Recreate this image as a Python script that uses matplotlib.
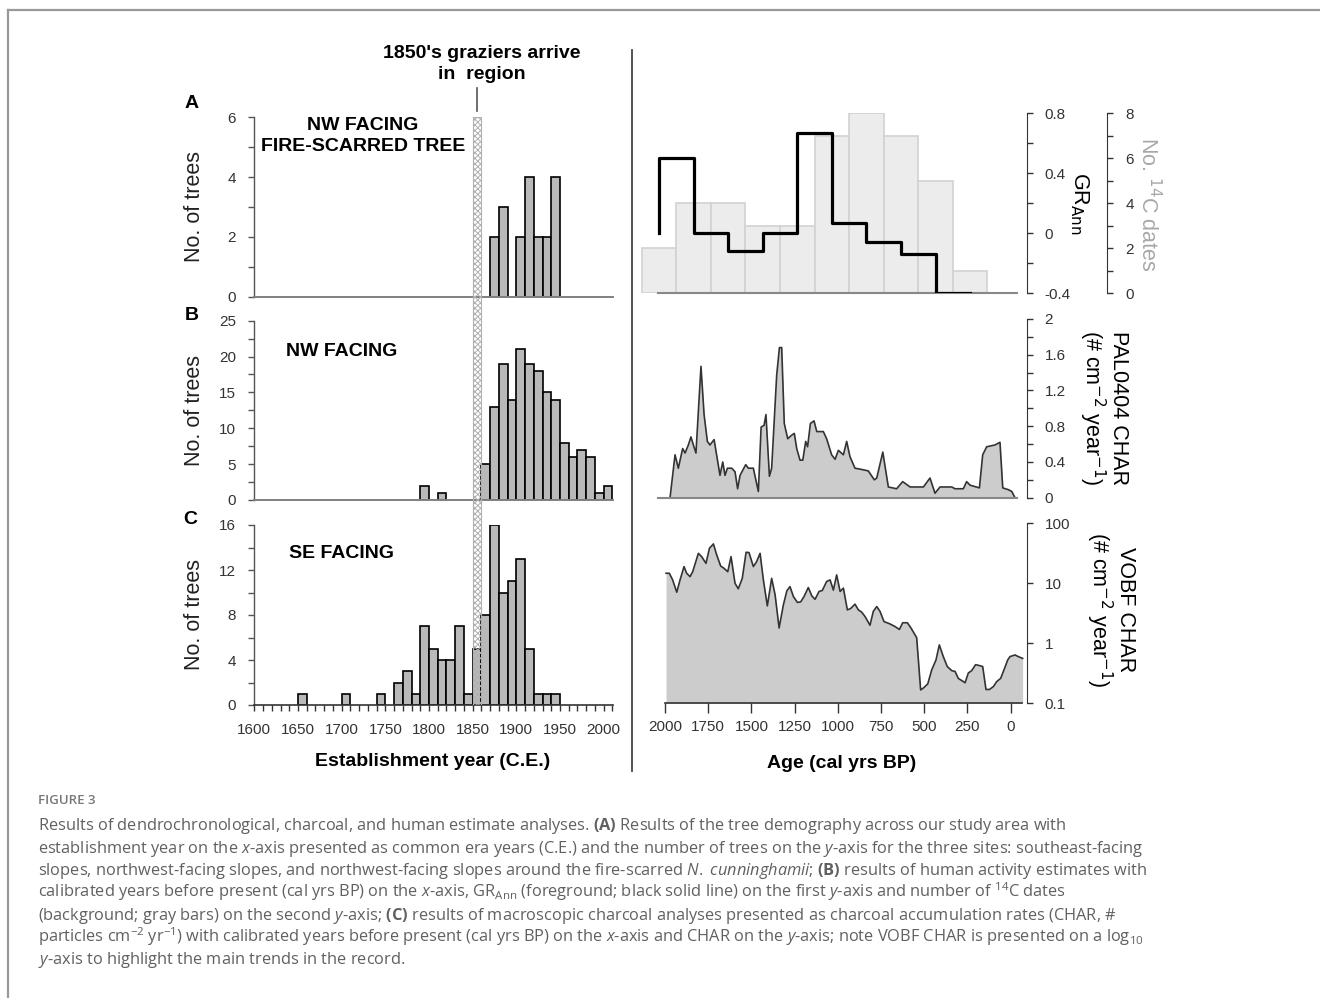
import matplotlib
matplotlib.use("Agg")
import matplotlib.pyplot as plt
from matplotlib.ticker import MultipleLocator, FixedLocator, NullLocator, FuncFormatter
from matplotlib.lines import Line2D
import matplotlib.transforms as mtrans

plt.rcParams['font.family'] = ['Liberation Sans', 'DejaVu Sans']
plt.rcParams['mathtext.fontset'] = 'custom'
plt.rcParams['mathtext.rm'] = 'Open Sans'
plt.rcParams['mathtext.it'] = 'Open Sans:italic'
plt.rcParams['mathtext.bf'] = 'Open Sans:bold'
plt.rcParams['hatch.linewidth'] = 0.7
plt.rcParams['hatch.color'] = '#a8a8a8'

# ---------------- data ----------------
# Panel A: NW facing, fire-scarred tree (decade bins, left edges)
years_A = [1870, 1880, 1900, 1910, 1920, 1930, 1940]
counts_A = [2, 3, 2, 4, 2, 2, 4]
# Panel B: NW facing
years_B = [1790, 1810, 1860, 1870, 1880, 1890, 1900, 1910, 1920, 1930, 1940,
           1950, 1960, 1970, 1980, 1990, 2000]
counts_B = [2, 1, 5, 13, 19, 14, 21, 19, 18, 15, 14, 8, 6, 7, 6, 1, 2]
# Panel C: SE facing
years_C = [1650, 1700, 1740, 1760, 1770, 1780, 1790, 1800, 1810, 1820, 1830,
           1840, 1850, 1860, 1870, 1880, 1890, 1900, 1910, 1920, 1930, 1940]
counts_C = [1, 1, 1, 2, 3, 1, 7, 5, 4, 4, 7, 1, 5, 8, 16, 10, 11, 13, 5, 1, 1, 1]
grazier_start, grazier_end, grazier_year = 1850, 1860, 1855

# Right top: number of 14C dates (200-yr bins) and GR_Ann step line
c14_centers = [2035, 1835, 1635, 1435, 1235, 1035, 835, 635, 435, 235]
c14_counts = [2, 4, 4, 3, 3, 7, 8, 7, 5, 1]
gr_edges = [2035, 1835, 1635, 1435, 1235, 1035, 835, 635, 435, 235]
gr_values = [0.5, 0.0, -0.12, 0.0, 0.67, 0.07, -0.06, -0.14, -0.4]
gr_start = 0.0

# Right middle: PAL0404 CHAR
pal_age = [1971, 1942, 1923, 1898, 1884, 1865, 1850, 1836, 1821, 1792, 1774, 1755, 1740,
           1716, 1682, 1666, 1653, 1639, 1614, 1595, 1580, 1566, 1533, 1518, 1489, 1460,
           1444, 1427, 1416, 1396, 1383, 1354, 1338, 1325, 1310, 1290, 1267, 1252, 1238,
           1219, 1203, 1186, 1175, 1159, 1138, 1122, 1084, 1065, 1036, 1016, 997, 968,
           949, 930, 901, 872, 824, 789, 775, 740, 708, 660, 625, 582, 505, 467, 438,
           409, 341, 322, 274, 255, 235, 181, 162, 139, 91, 62, 46, 14, -6, -25]
pal_val = [0.0, 0.48, 0.33, 0.55, 0.50, 0.59, 0.68, 0.59, 0.50, 1.47, 0.93, 0.63, 0.59,
           0.65, 0.25, 0.40, 0.25, 0.33, 0.33, 0.29, 0.10, 0.25, 0.37, 0.33, 0.33, 0.07,
           0.79, 0.81, 0.93, 0.24, 0.33, 1.37, 1.68, 1.68, 0.83, 0.66, 0.70, 0.72, 0.55,
           0.42, 0.42, 0.63, 0.57, 0.83, 0.86, 0.74, 0.74, 0.66, 0.48, 0.43, 0.53, 0.48,
           0.63, 0.46, 0.33, 0.32, 0.30, 0.20, 0.22, 0.51, 0.12, 0.10, 0.18, 0.12, 0.12,
           0.22, 0.05, 0.12, 0.12, 0.10, 0.10, 0.18, 0.14, 0.11, 0.48, 0.57, 0.59, 0.62,
           0.11, 0.09, 0.07, 0.0]

# Right bottom: VOBF CHAR (log scale)
vobf_age = [1994, 1975, 1956, 1932, 1913, 1890, 1875, 1855, 1840, 1807, 1788, 1763, 1743,
            1720, 1701, 1678, 1659, 1637, 1618, 1595, 1576, 1553, 1531, 1514, 1489, 1470,
            1450, 1431, 1408, 1383, 1363, 1340, 1315, 1295, 1277, 1257, 1234, 1215, 1196,
            1171, 1151, 1132, 1109, 1090, 1065, 1045, 1026, 1007, 987, 968, 945, 926, 901,
            881, 862, 843, 814, 795, 775, 756, 733, 698, 669, 644, 625, 598, 577, 544, 521,
            505, 480, 457, 432, 413, 390, 367, 341, 322, 303, 274, 264, 245, 226, 203, 187,
            162, 143, 123, 100, 81, 58, 39, 17, 4, -25, -44, -69]
vobf_val = [14.7, 14.7, 11.4, 7.1, 11.4, 19.0, 14.7, 12.9, 15.6, 31.6, 27.8, 21.5, 38.3,
            45.3, 29.7, 19.4, 17.8, 15.6, 27.8, 10.0, 8.1, 12.1, 32.9, 32.5, 19.0, 23.0,
            31.6, 11.4, 4.2, 12.1, 6.4, 1.8, 4.4, 7.5, 8.8, 6.0, 4.8, 4.9, 6.0, 8.5, 6.2,
            5.4, 7.3, 7.6, 10.7, 11.4, 7.7, 13.8, 7.3, 8.3, 3.6, 3.8, 4.5, 3.6, 3.3, 2.8,
            2.0, 3.4, 4.1, 3.4, 2.3, 2.1, 1.9, 1.7, 2.2, 2.2, 1.8, 1.24, 0.167, 0.18, 0.21,
            0.36, 0.53, 0.94, 0.60, 0.41, 0.35, 0.34, 0.26, 0.23, 0.22, 0.32, 0.35, 0.44,
            0.43, 0.41, 0.17, 0.17, 0.19, 0.23, 0.26, 0.36, 0.53, 0.60, 0.64, 0.60, 0.56]

age_ticks = [2000, 1750, 1500, 1250, 1000, 750, 500, 250, 0]
year_ticks = [1600, 1650, 1700, 1750, 1800, 1850, 1900, 1950, 2000]

caption_lines = [
    r"Results of dendrochronological, charcoal, and human estimate analyses. $\mathbf{(A)}$ Results of the tree demography across our study area with",
    r"establishment year on the $\mathit{x}$-axis presented as common era years (C.E.) and the number of trees on the $\mathit{y}$-axis for the three sites: southeast-facing",
    r"slopes, northwest-facing slopes, and northwest-facing slopes around the fire-scarred $\mathit{N.}$ $\mathit{cunninghamii}$; $\mathbf{(B)}$ results of human activity estimates with",
    r"calibrated years before present (cal yrs BP) on the $\mathit{x}$-axis, GR$_{\mathrm{Ann}}$ (foreground; black solid line) on the first $\mathit{y}$-axis and number of $^{14}$C dates",
    r"(background; gray bars) on the second $\mathit{y}$-axis; $\mathbf{(C)}$ results of macroscopic charcoal analyses presented as charcoal accumulation rates (CHAR, #",
    r"particles cm$^{-2}$ yr$^{-1}$) with calibrated years before present (cal yrs BP) on the $\mathit{x}$-axis and CHAR on the $\mathit{y}$-axis; note VOBF CHAR is presented on a log$_{10}$",
    r"$\mathit{y}$-axis to highlight the main trends in the record.",
]

# ---------------- figure ----------------
W, H = 1320, 998
fig = plt.figure(figsize=(W / 100, H / 100), dpi=100)


def ax_px(x0, x1, ytop, ybot):
    return fig.add_axes([x0 / W, 1 - ybot / H, (x1 - x0) / W, (ybot - ytop) / H])


def fx(px):
    return px / W


def fy(py):
    return 1 - py / H


BAR_FC = '#b9b9b9'
TXT = '#333333'
SP = '#555555'

LX0, LX1 = 254.3, 613.3
left_specs = [
    (years_A, counts_A, 117.3, 296.7, 6, 2, 1),
    (years_B, counts_B, 320.7, 500.0, 25, 5, 2.5),
    (years_C, counts_C, 525.0, 705.0, 16, 4, 2),
]
left_axes = []
for i, (yrs, cnt, yt, yb, ymax, maj, mnr) in enumerate(left_specs):
    ax = ax_px(LX0, LX1, yt, yb)
    ax.bar(yrs, cnt, width=10, align='edge', color=BAR_FC, edgecolor='black', linewidth=1.2, zorder=2)
    ax.set_xlim(1600, 2011)
    ax.set_ylim(0, ymax)
    ax.yaxis.set_major_locator(MultipleLocator(maj))
    ax.yaxis.set_minor_locator(MultipleLocator(mnr))
    ax.yaxis.set_major_formatter(FuncFormatter(lambda v, p: f"{v:g}"))
    for s in ['top', 'right']:
        ax.spines[s].set_visible(False)
    ax.spines['left'].set_color(SP)
    ax.spines['left'].set_linewidth(1.0)
    ax.tick_params(axis='y', which='both', direction='out', length=4, width=1.0,
                   color=SP, labelcolor=TXT, labelsize=11, pad=9)
    ax.patch.set_visible(False)
    if i < 2:
        ax.set_xticks([])
        ax.spines['bottom'].set_color('#808080')
        ax.spines['bottom'].set_linewidth(1.4)
    else:
        ax.spines['bottom'].set_color('#333333')
        ax.spines['bottom'].set_linewidth(1.2)
        ax.xaxis.set_major_locator(FixedLocator(year_ticks))
        ax.xaxis.set_minor_locator(MultipleLocator(10))
        ax.tick_params(axis='x', which='both', direction='out', length=4, width=1.0,
                       color='#333333', labelcolor=TXT, labelsize=11, pad=9)
    left_axes.append(ax)
    fig.text(fx(195), fy((yt + yb) / 2), 'No. of trees', rotation=90, ha='center',
             va='center', fontsize=15.5, color='#222222')

# panel letters
for lab, px, py in [('A', 191.5, 103.3), ('B', 191.5, 315), ('C', 190.5, 520)]:
    fig.text(fx(px), fy(py), lab, fontsize=14, fontweight='bold', ha='center', va='center')

# panel annotations
fig.text(fx(363), fy(136), 'NW FACING\nFIRE-SCARRED TREE', fontsize=14, fontweight='bold',
         ha='center', va='center', multialignment='center', linespacing=1.25)
fig.text(fx(342), fy(351.7), 'NW FACING', fontsize=14, fontweight='bold', ha='center', va='center')
fig.text(fx(341), fy(554), 'SE FACING', fontsize=14, fontweight='bold', ha='center', va='center')

# hatched grazier band across the three panels
ov = ax_px(LX0, LX1, 117.3, 705.0)
ov.set_xlim(1600, 2011)
ov.set_ylim(0, 1)
ov.axis('off')
ov.axvspan(grazier_start, grazier_end, facecolor='none', edgecolor='#b0b0b0',
           hatch='xxxxxx', linewidth=0.8, zorder=5)
tr = mtrans.blended_transform_factory(ov.transData, fig.transFigure)
ov.add_line(Line2D([grazier_year, grazier_year], [fy(88), fy(111)], transform=tr,
                   color='#555555', lw=1.2, clip_on=False))
fig.text(fx(481.5), fy(64), "1850's graziers arrive\nin  region", fontsize=14,
         fontweight='bold', ha='center', va='center', multialignment='center', linespacing=1.25)

fig.text(fx(433), fy(761.5), 'Establishment year (C.E.)', fontsize=14, fontweight='bold',
         ha='center', va='center')

# divider
fig.add_artist(Line2D([fx(632), fx(632)], [fy(50), fy(771)], color='#444444', lw=1.3))

# ---------------- right panels ----------------
RX0, RX1 = 639.1, 1026.6
XL = (2150, -92)


def right_common(ax):
    ax.set_xlim(*XL)
    for s in ['top', 'left']:
        ax.spines[s].set_visible(False)
    ax.spines['right'].set_color('#333333')
    ax.yaxis.tick_right()
    ax.tick_params(axis='y', which='both', direction='out', length=4.5, width=1.0,
                   color='#333333', labelcolor=TXT, labelsize=11, pad=8.5)
    ax.patch.set_visible(False)


# top right
ax_gr = ax_px(RX0, RX1, 113.3, 293.3)
ax_c14 = ax_gr.twinx()
ax_c14.bar(c14_centers, c14_counts, width=200, color='#ececec', edgecolor='#d2d2d2',
           linewidth=1.2)
ax_c14.set_ylim(0, 8)
ax_c14.set_xlim(*XL)
ax_c14.yaxis.set_major_locator(MultipleLocator(2))
ax_c14.yaxis.set_minor_locator(MultipleLocator(1))
for s in ['top', 'left', 'bottom']:
    ax_c14.spines[s].set_visible(False)
ax_c14.spines['right'].set_position(('outward', 80.6 * 0.72))
ax_c14.spines['right'].set_color('#333333')
ax_c14.tick_params(axis='y', which='both', direction='out', length=4.5, width=1.0,
                   color='#333333', labelcolor=TXT, labelsize=11, pad=8.5)

ax_gr.step([gr_edges[0]] + gr_edges, [gr_start] + gr_values + [gr_values[-1]],
           where='post', color='black', lw=2.3, zorder=3)
ax_gr.set_ylim(-0.4, 0.8)
right_common(ax_gr)
ax_gr.yaxis.set_major_locator(FixedLocator([-0.4, 0, 0.4, 0.8]))
ax_gr.yaxis.set_minor_locator(MultipleLocator(0.2))
ax_gr.yaxis.set_major_formatter(FuncFormatter(lambda v, p: f"{v:g}"))
ax_gr.set_xticks([])
ax_gr.spines['bottom'].set_bounds(2040, -35)
ax_gr.spines['bottom'].set_color('#888888')
ax_gr.spines['bottom'].set_linewidth(1.5)
ax_gr.set_zorder(ax_c14.get_zorder() + 1)

fig.text(fx(1079), fy(203), r'GR$_{\mathrm{Ann}}$', rotation=-90, ha='center', va='center',
         fontsize=15.5, math_fontfamily='dejavusans')
fig.text(fx(1148), fy(204), r'No. $^{14}$C dates', rotation=-90, ha='center', va='center',
         fontsize=15.5, color='#a8a8a8', math_fontfamily='dejavusans')

# middle right
ax_pal = ax_px(RX0, RX1, 319.0, 497.7)
ax_pal.fill_between(pal_age, pal_val, 0, color='#cccccc', linewidth=0)
ax_pal.plot(pal_age, pal_val, color='#333333', lw=1.2)
ax_pal.set_ylim(0, 2)
right_common(ax_pal)
ax_pal.yaxis.set_major_locator(FixedLocator([0, 0.4, 0.8, 1.2, 1.6, 2.0]))
ax_pal.yaxis.set_minor_locator(MultipleLocator(0.2))
ax_pal.yaxis.set_major_formatter(FuncFormatter(lambda v, p: f"{v:g}"))
ax_pal.set_xticks([])
ax_pal.spines['bottom'].set_bounds(2040, -35)
ax_pal.spines['bottom'].set_color('#888888')
ax_pal.spines['bottom'].set_linewidth(1.5)
fig.text(fx(1103), fy(408), 'PAL0404 CHAR\n(# cm$^{-2}$ year$^{-1}$)', rotation=-90,
         ha='center', va='center', multialignment='center', fontsize=15.5, linespacing=1.05,
         math_fontfamily='dejavusans')

# bottom right
ax_v = ax_px(RX0, RX1, 523.3, 703.3)
ax_v.set_yscale('log')
ax_v.fill_between(vobf_age, vobf_val, 0.1, color='#cccccc', linewidth=0)
ax_v.plot(vobf_age, vobf_val, color='#333333', lw=1.2)
ax_v.set_ylim(0.1, 100)
right_common(ax_v)
ax_v.yaxis.set_major_locator(FixedLocator([0.1, 1, 10, 100]))
ax_v.yaxis.set_minor_locator(NullLocator())
ax_v.yaxis.set_major_formatter(FuncFormatter(lambda v, p: f"{v:g}"))
ax_v.xaxis.set_major_locator(FixedLocator(age_ticks))
ax_v.xaxis.set_major_formatter(FuncFormatter(lambda v, p: f"{v:g}"))
ax_v.tick_params(axis='x', direction='out', length=7, width=1.0, color='#333333',
                 labelcolor=TXT, labelsize=11, pad=5)
ax_v.spines['bottom'].set_bounds(2000, -64)
ax_v.spines['bottom'].set_color('#333333')
ax_v.spines['bottom'].set_linewidth(1.2)
fig.text(fx(1110), fy(610), 'VOBF CHAR\n(# cm$^{-2}$ year$^{-1}$)', rotation=-90,
         ha='center', va='center', multialignment='center', fontsize=15.5, linespacing=1.05,
         math_fontfamily='dejavusans')
fig.text(fx(842), fy(764), 'Age (cal yrs BP)', fontsize=14, fontweight='bold',
         ha='center', va='center')

# ---------------- frame and caption ----------------
fig.add_artist(Line2D([fx(8), fx(1320)], [fy(10), fy(10)], color='#999999', lw=1.6))
fig.add_artist(Line2D([fx(8), fx(8)], [fy(10), fy(998)], color='#999999', lw=1.6))

fig.text(fx(38), fy(801), 'FIGURE 3', fontsize=9.5, color='#777777', family='Open Sans',
         fontweight='semibold', va='center')
for k, line in enumerate(caption_lines):
    fig.text(fx(38), fy(830.5 + 22.3 * k), line, fontsize=11.8, color='#606060',
             family='Open Sans', va='baseline', math_fontfamily='custom')

fig.savefig('out.png', dpi=100)
